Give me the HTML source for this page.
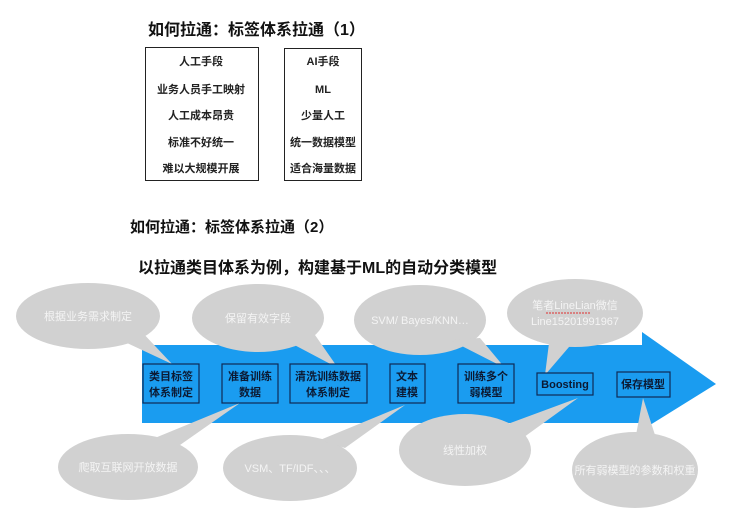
<!DOCTYPE html>
<html><head><meta charset="utf-8"><style>
body{margin:0;background:#fff;}
svg{display:block;font-family:"Liberation Sans","Noto Sans CJK SC",sans-serif;}
</style></head><body>
<svg width="750" height="513" viewBox="0 0 750 513" xmlns="http://www.w3.org/2000/svg">
<text x="148" y="35" font-size="16" font-weight="bold" fill="#111">如何拉通：标签体系拉通（1）</text>
<rect x="145.5" y="47.5" width="113" height="133" fill="none" stroke="#222" stroke-width="1"/>
<rect x="284.5" y="48.5" width="77" height="132" fill="none" stroke="#222" stroke-width="1"/>
<g font-size="11" font-weight="bold" fill="#222" text-anchor="middle">
<text x="201" y="65">人工手段</text><text x="201" y="93">业务人员手工映射</text><text x="201" y="119">人工成本昂贵</text><text x="201" y="146">标准不好统一</text><text x="201" y="172">难以大规模开展</text>
<text x="323" y="65">AI手段</text><text x="323" y="93">ML</text><text x="323" y="119">少量人工</text><text x="323" y="146">统一数据模型</text><text x="323" y="172">适合海量数据</text>
</g>
<text x="130" y="232" font-size="15" font-weight="bold" fill="#111">如何拉通：标签体系拉通（2）</text>
<text x="138" y="273" font-size="16" font-weight="bold" fill="#111">以拉通类目体系为例，构建基于ML的自动分类模型</text>
<polygon points="142,345 642,345 642,332 716,384 642,430 642,423 142,423" fill="#1a9cf0"/>
<g fill="#d1d1d1">
<ellipse cx="88" cy="316" rx="72" ry="33"/><polygon points="110,335 140,330 172,364"/>
<ellipse cx="258" cy="318" rx="66" ry="34"/><polygon points="285,340 315,335 338,368"/>
<ellipse cx="420" cy="320" rx="66" ry="35"/><polygon points="450,340 480,338 505,368"/>
<ellipse cx="575" cy="313" rx="68" ry="34"/><polygon points="550,335 575,340 545,375"/>
<ellipse cx="128" cy="467" rx="70" ry="33"/><polygon points="150,440 180,445 240,403"/>
<ellipse cx="290" cy="468" rx="67" ry="33"/><polygon points="320,440 345,448 405,405"/>
<ellipse cx="465" cy="450" rx="66" ry="36"/><polygon points="505,425 520,440 578,398"/>
<ellipse cx="635" cy="470" rx="63" ry="38"/><polygon points="636,435 655,435 643,398"/>
</g>
<g font-size="11" fill="#f4f4f4" text-anchor="middle">
<text x="88" y="320">根据业务需求制定</text>
<text x="258" y="322">保留有效字段</text>
<text x="420" y="324">SVM/ Bayes/KNN…</text>
<text x="575" y="309">笔者LineLian微信</text>
<text x="575" y="325">Line15201991967</text>
<text x="128" y="471">爬取互联网开放数据</text>
<text x="290" y="472">VSM、TF/IDF、、、</text>
<text x="465" y="454">线性加权</text>
<text x="635" y="474">所有弱模型的参数和权重</text>
</g>
<line x1="546" y1="313" x2="590" y2="313" stroke="#e03030" stroke-width="1" stroke-dasharray="2,1"/>
<g fill="#1a9cf0" stroke="#0f2a55" stroke-width="1.2">
<rect x="143" y="364" width="56" height="39"/>
<rect x="222" y="364" width="56" height="39"/>
<rect x="290" y="364" width="77" height="39"/>
<rect x="390" y="364" width="35" height="39"/>
<rect x="458" y="364" width="56" height="39"/>
<rect x="537" y="373" width="56" height="22"/>
<rect x="617" y="372" width="53" height="25"/>
</g>
<g font-size="11" font-weight="bold" fill="#0c1a33" text-anchor="middle">
<text x="171" y="380">类目标签</text><text x="171" y="396">体系制定</text>
<text x="250" y="380">准备训练</text><text x="250" y="396">数据</text>
<text x="328" y="380">清洗训练数据</text><text x="328" y="396">体系制定</text>
<text x="407" y="380">文本</text><text x="407" y="396">建模</text>
<text x="486" y="380">训练多个</text><text x="486" y="396">弱模型</text>
<text x="565" y="388">Boosting</text>
<text x="643" y="388">保存模型</text>
</g>
</svg>
</body></html>
